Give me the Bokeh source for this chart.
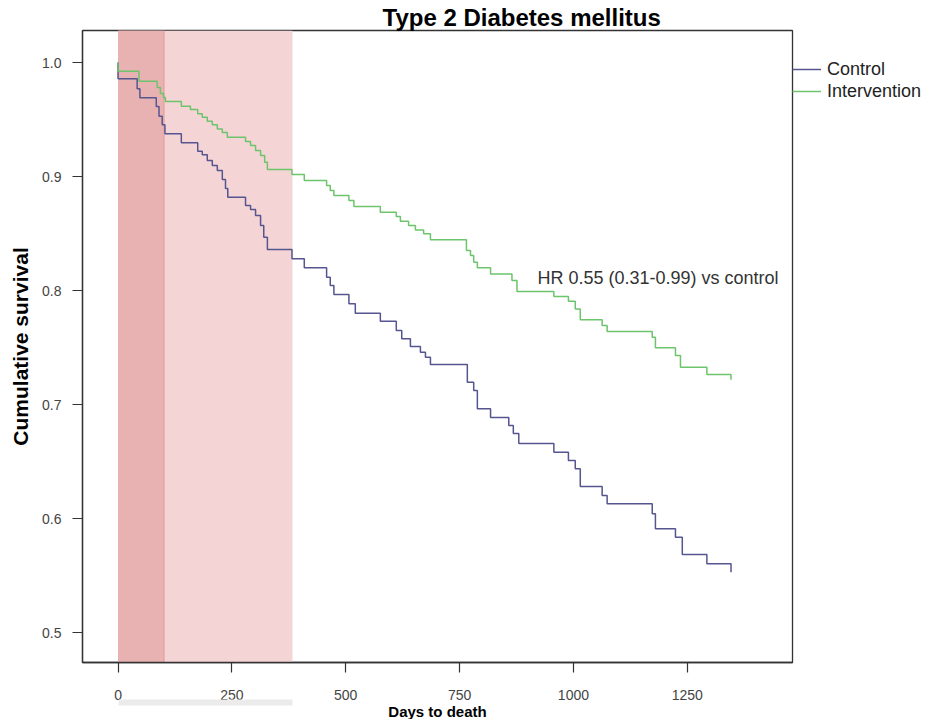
from bokeh.plotting import figure
from bokeh.models import (BoxAnnotation, Label, Legend, LegendItem, Range1d, LinearAxis,
                          FixedTicker, PrintfTickFormatter, Span)
from bokeh.embed import file_html
from bokeh.resources import INLINE

# ---- data ----
control_days = [0, 0, 42, 48, 84, 90, 97, 103, 139, 175, 185, 196, 207, 218, 229, 236, 241,
                280, 291, 302, 313, 320, 328, 382, 409, 458, 466, 474, 507, 521, 576, 611,
                623, 642, 664, 675, 686, 767, 781, 789, 818, 858, 868, 880, 957, 989, 1004,
                1015, 1063, 1074, 1173, 1180, 1224, 1239, 1293, 1346]
control_surv = [1.0, 0.9857, 0.9769, 0.9690, 0.9614, 0.9529, 0.9454, 0.9375, 0.9296, 0.9222,
                0.9190, 0.9140, 0.9096, 0.9053, 0.8974, 0.8895, 0.8818, 0.8746, 0.8711, 0.8658,
                0.8570, 0.8468, 0.8360, 0.8278, 0.8199, 0.8117, 0.8044, 0.7965, 0.7883, 0.7801,
                0.7731, 0.7649, 0.7576, 0.7509, 0.7459, 0.7415, 0.7351, 0.7196, 0.7123, 0.6962,
                0.6886, 0.6816, 0.6746, 0.6658, 0.6582, 0.6509, 0.6436, 0.6281, 0.6202, 0.6129,
                0.6041, 0.5910, 0.5836, 0.5684, 0.5603, 0.5529]

interv_days = [0, 0, 46, 86, 93, 100, 104, 139, 159, 175, 185, 196, 207, 218, 229, 240, 280,
               291, 302, 313, 322, 328, 382, 409, 458, 466, 474, 507, 518, 576, 611, 620, 638,
               653, 671, 686, 765, 774, 781, 789, 818, 865, 876, 957, 989, 1004, 1015, 1063,
               1074, 1173, 1180, 1224, 1235, 1293, 1346]
interv_surv = [1.0, 0.9924, 0.9836, 0.9781, 0.9728, 0.9693, 0.9658, 0.9617, 0.9588, 0.9550,
               0.9520, 0.9485, 0.9454, 0.9418, 0.9386, 0.9345, 0.9307, 0.9272, 0.9228, 0.9184,
               0.9125, 0.9061, 0.9018, 0.8965, 0.8921, 0.8877, 0.8833, 0.8789, 0.8737, 0.8687,
               0.8649, 0.8608, 0.8570, 0.8532, 0.8497, 0.8445, 0.8351, 0.8307, 0.8248, 0.8199,
               0.8146, 0.8088, 0.7991, 0.7947, 0.7906, 0.7839, 0.7744, 0.7693, 0.7640, 0.7590,
               0.7497, 0.7430, 0.7327, 0.7263, 0.7217]

x_ticks = [0, 250, 500, 750, 1000, 1250]
y_ticks = [0.5, 0.6, 0.7, 0.8, 0.9, 1.0]
early_window = (0, 101)
first_year_window = (0, 383)

series_names = ["Control", "Intervention"]
title_text = "Type 2 Diabetes mellitus"
hr_text = "HR 0.55 (0.31-0.99) vs control"
hr_pos = (921, 0.8114)

FONT = "Liberation Sans"
NAVY = "#55558f"
GREEN = "#6cc46c"
AXIS = "#333333"

p = figure(frame_width=710, frame_height=632, min_border_left=82, min_border_right=134,
           min_border_top=30, min_border_bottom=57,
           x_range=Range1d(-78, 1481), y_range=Range1d(0.4737, 1.0281),
           output_backend="svg", toolbar_location=None,
           background_fill_color="white", border_fill_color="white")

p.outline_line_color = AXIS
p.outline_line_width = 1.3
p.xgrid.visible = False
p.ygrid.visible = False

# title
p.title.text = title_text
p.title.align = "left"
p.title.offset = 300
p.title.standoff = 0
p.title.text_font = FONT
p.title.text_font_style = "bold"
p.title.text_font_size = "24px"
p.title.text_color = "black"

# shaded windows
p.add_layout(BoxAnnotation(left=first_year_window[0], right=first_year_window[1],
                           fill_color="#f5d4d5", fill_alpha=1.0, line_color=None,
                           level="underlay"))
p.add_layout(BoxAnnotation(left=early_window[0], right=early_window[1],
                           fill_color="#e9b2b2", fill_alpha=1.0, line_color=None,
                           level="underlay"))
p.add_layout(Span(location=early_window[1], dimension="height", line_color="#e59a9a",
                  line_width=1, level="underlay"))

r_c = p.step(control_days, control_surv, mode="after", line_color=NAVY, line_width=1.5)
r_i = p.step(interv_days, interv_surv, mode="after", line_color=GREEN, line_width=1.5)

# axes
xax = p.below[0]
yax = p.left[0]
for ax in (xax, yax):
    ax.axis_line_color = AXIS
    ax.axis_line_width = 1.3
    ax.major_tick_line_color = AXIS
    ax.major_tick_line_width = 1.2
    ax.major_tick_in = 0
    ax.major_tick_out = 10
    ax.minor_tick_line_color = None
    ax.major_label_text_font = FONT
    ax.major_label_text_font_size = "14px"
    ax.major_label_text_color = "#444444"

xax.ticker = FixedTicker(ticks=x_ticks)
xax.major_label_standoff = 17
yax.ticker = FixedTicker(ticks=y_ticks)
yax.formatter = PrintfTickFormatter(format="%.1f")
yax.major_label_standoff = 11
yax.axis_label = "Cumulative survival"
yax.axis_label_text_font = FONT
yax.axis_label_text_font_style = "bold"
yax.axis_label_text_font_size = "21px"
yax.axis_label_text_color = "black"
yax.axis_label_standoff = 7

# second bottom axis: grey bar under the first-year window, carries the axis title
bar_axis = LinearAxis(ticker=FixedTicker(ticks=[]), bounds=first_year_window,
                      axis_line_color="#ebebeb", axis_line_width=6,
                      major_tick_line_color=None, minor_tick_line_color=None,
                      axis_label="Days to death", axis_label_standoff=0,
                      axis_label_text_font=FONT, axis_label_text_font_style="bold",
                      axis_label_text_font_size="15px", axis_label_text_color="black")
p.add_layout(bar_axis, "below")

# HR annotation
p.add_layout(Label(x=hr_pos[0], y=hr_pos[1], text=hr_text, text_font=FONT,
                   text_font_size="18px", text_baseline="middle", text_color="#333333"))

legend = Legend(items=[LegendItem(label=series_names[0], renderers=[r_c]),
                       LegendItem(label=series_names[1], renderers=[r_i])],
                location=(0, 560), padding=0, margin=0, spacing=0,
                label_height=22, glyph_height=22, glyph_width=29, label_standoff=6,
                label_text_font=FONT, label_text_font_size="18px", label_text_color="#222222",
                border_line_color=None, background_fill_alpha=0)
p.add_layout(legend, "right")

open("out.html", "w").write(file_html(p, INLINE))
